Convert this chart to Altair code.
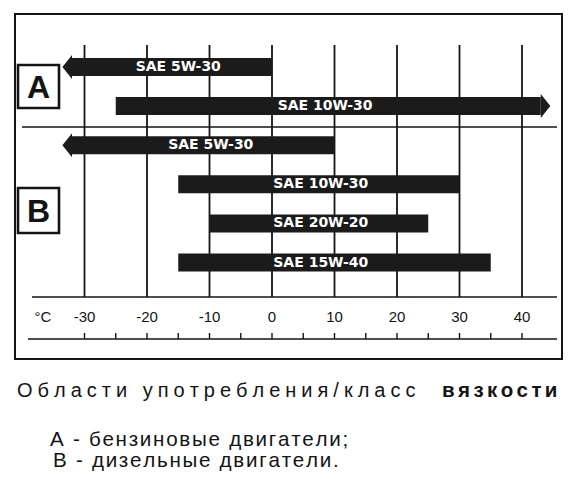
import altair as alt
import pandas as pd

# ---- data ----
groups = ["A", "A", "B", "B", "B", "B"]
grades = ["SAE 5W-30", "SAE 10W-30", "SAE 5W-30", "SAE 10W-30", "SAE 20W-20", "SAE 15W-40"]
t_low = [-32, -25, -32, -15, -10, -15]
t_high = [0, 43, 10, 30, 25, 35]
arrow_left = [True, False, True, False, False, False]
arrow_right = [False, True, False, False, False, False]
label_at = [-15, 8.5, -9.8, 7.8, 7.8, 7.8]

ticks = [-30, -20, -10, 0, 10, 20, 30, 40]
tick_labels = ["-30", "-20", "-10", "0", "10", "20", "30", "40"]
minor_ticks = [-30, -25, -20, -15, -10, -5, 0, 5, 10, 15, 20, 25, 30, 35, 40]

group_letters = ["A", "B"]
title_regular = "Области употребления/класс"
title_bold = "вязкости"
legend_lines = ["А - бензиновые двигатели;", "В - дизельные двигатели."]

W, H = 559, 463
rows = [g + " " + s + " #" + str(i) for i, (g, s) in enumerate(zip(groups, grades))]
df = pd.DataFrame({
    "row": rows, "group": groups, "grade": grades, "low": t_low, "high": t_high,
    "aleft": arrow_left, "aright": arrow_right, "lab": label_at,
})

xs = alt.Scale(domain=[-42.24, 47.2], nice=False, zero=False)
ys = alt.Scale(type="point", domain=rows, range=[59, 254.5], padding=0)
X = lambda f: alt.X(f, type="quantitative", scale=xs, axis=None)
Y = alt.Y("row:N", scale=ys, axis=None)

one = alt.Data(values=[{"k": 1}])
tick_df = pd.DataFrame({"t": ticks, "lab": tick_labels})
minor_df = pd.DataFrame({"t": minor_ticks})

INK = "#141414"


def track(s, sp):
    return sp.join(s)


frame = alt.Chart(one).mark_rect(fillOpacity=0, stroke=INK, strokeWidth=2).encode(
    x=alt.value(7), x2=alt.value(554), y=alt.value(6), y2=alt.value(351))

grid = alt.Chart(tick_df).mark_rule(color=INK, strokeWidth=1.8).encode(
    x=X("t"), y=alt.value(37), y2=alt.value(289))

sep = alt.Chart(one).mark_rule(color=INK, strokeWidth=1.6).encode(
    x=alt.value(14), x2=alt.value(549), y=alt.value(119))
axis_top = alt.Chart(one).mark_rule(color=INK, strokeWidth=1.6).encode(
    x=alt.value(24), x2=alt.value(549), y=alt.value(289))
axis_bot = alt.Chart(one).mark_rule(color=INK, strokeWidth=1.4).encode(
    x=alt.value(20), x2=alt.value(549), y=alt.value(331))
small_ticks = alt.Chart(minor_df).mark_rule(color=INK, strokeWidth=1.4).encode(
    x=X("t"), y=alt.value(325), y2=alt.value(331))

tick_text = alt.Chart(tick_df).mark_text(
    font="Liberation Sans", fontSize=15, color=INK, baseline="middle", align="center"
).encode(x=X("t"), y=alt.value(309), text="lab:N")
deg = alt.Chart(one).mark_text(
    font="Liberation Sans", fontSize=15, color=INK, baseline="middle", align="center", text="°C"
).encode(x=alt.value(35), y=alt.value(309))

box_df = pd.DataFrame({"g": group_letters, "y0": [57, 180], "y1": [100, 225]})
boxes = alt.Chart(box_df).mark_rect(fillOpacity=0, stroke=INK, strokeWidth=2.6).encode(
    x=alt.value(10), x2=alt.value(51),
    y=alt.Y("y0:Q", scale=alt.Scale(domain=[0, H], range=[0, H]), axis=None),
    y2="y1:Q")
box_letters = alt.Chart(box_df).transform_calculate(yc="(datum.y0 + datum.y1) / 2").mark_text(
    font="Liberation Sans", fontWeight="bold", fontSize=32, color=INK,
    baseline="middle", align="center", dy=1
).encode(x=alt.value(30.5),
         y=alt.Y("yc:Q", scale=alt.Scale(domain=[0, H], range=[0, H]), axis=None),
         text="g:N")

bars = alt.Chart(df).mark_bar(size=18, color="#1b1b1b").encode(x=X("low"), x2="high", y=Y)
head_l = alt.Chart(df).transform_filter("datum.aleft").mark_point(
    shape="M0,-1 L-0.8,0 L0,1 Z", filled=True, size=576, color="#1b1b1b", opacity=1
).encode(x=X("low"), y=Y)
head_r = alt.Chart(df).transform_filter("datum.aright").mark_point(
    shape="M0,-1 L0.8,0 L0,1 Z", filled=True, size=576, color="#1b1b1b", opacity=1
).encode(x=X("high"), y=Y)
labels = alt.Chart(df).mark_text(
    font="DejaVu Sans", fontWeight="bold", fontSize=14, color="white",
    baseline="middle", align="center"
).encode(x=X("lab"), y=Y, text="grade:N")

title1 = alt.Chart(one).mark_text(
    font="Liberation Sans", fontSize=20, color=INK, align="left", baseline="alphabetic",
    text=track(title_regular, "\u2005")
).encode(x=alt.value(9), y=alt.value(389))
title2 = alt.Chart(one).mark_text(
    font="Liberation Sans", fontSize=20.5, fontWeight="bold", color=INK, align="left",
    baseline="alphabetic", text=track(title_bold, "\u2006")
).encode(x=alt.value(434), y=alt.value(389))
leg1 = alt.Chart(one).mark_text(
    font="Liberation Sans", fontSize=20.6, color=INK, align="left", baseline="alphabetic",
    text=track(legend_lines[0], "\u200a")
).encode(x=alt.value(42), y=alt.value(438))
leg2 = alt.Chart(one).mark_text(
    font="Liberation Sans", fontSize=20.6, color=INK, align="left", baseline="alphabetic",
    text=track(legend_lines[1], "\u200a")
).encode(x=alt.value(45), y=alt.value(459))

chart = alt.layer(
    frame, grid, sep, axis_top, axis_bot, small_ticks, tick_text, deg,
    boxes, box_letters, bars, head_l, head_r, labels,
    title1, title2, leg1, leg2,
).resolve_scale(y="independent").properties(
    width=W, height=H, padding=0, autosize=alt.AutoSizeParams(type="none"),
    background="white",
).configure_view(stroke=None)

chart.save("out.html", embed_options={"renderer": "svg", "actions": False})
